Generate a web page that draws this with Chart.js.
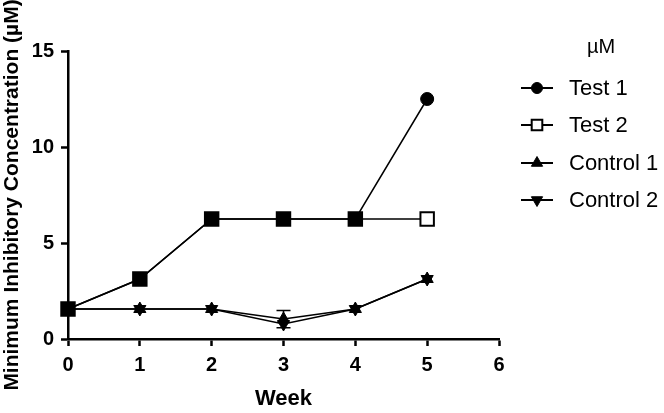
<!DOCTYPE html>
<html>
<head>
<meta charset="utf-8">
<script src="https://cdn.jsdelivr.net/npm/chart.js@4"></script>
<style>
  html, body { margin: 0; padding: 0; background: #fff; }
  #wrap { width: 664px; height: 413px; }
</style>
</head>
<body>
<div id="wrap"><canvas id="mic_chartCanvas" width="664" height="413"></canvas></div>
<script>
// data
var weeks = [0, 1, 2, 3, 4, 5];
var test1 = [1.5625, 3.125, 6.25, 6.25, 6.25, 12.5];
var test2 = [1.5625, 3.125, 6.25, 6.25, 6.25, 6.25];
var control1 = [1.5625, 1.5625, 1.5625, 1.04, 1.5625, 3.125];
var control1Err = [0, 0, 0, 0.45, 0, 0];
var control2 = [1.5625, 1.5625, 1.5625, 0.78, 1.5625, 3.125];
var xTicks = [0, 1, 2, 3, 4, 5, 6];
var yTicks = [0, 5, 10, 15];
var legendTitle = 'µM';

var FONT = '"Liberation Sans", Arial, Helvetica, sans-serif';

/* turn two arrays into x/y points */
function toPoints(xs, ys) {
    var pts = [];
    for (var i = 0; i < xs.length; i++) {
        pts.push({ x: xs[i], y: ys[i] });
    }
    return pts;
}

/* error bars drawn through the chart scales */
var errorBars = {
    id: 'errorBars',
    afterDatasetsDraw: function (chart) {
        var ctx = chart.ctx;
        var xs = chart.scales.x, ys = chart.scales.y;
        chart.data.datasets.forEach(function (ds) {
            if (!ds.errors) return;
            ctx.save();
            ctx.strokeStyle = '#000';
            ctx.lineWidth = 1.5;
            for (var i = 0; i < ds.data.length; i++) {
                var e = ds.errors[i];
                if (!e) continue;
                var px = xs.getPixelForValue(ds.data[i].x);
                var top = ys.getPixelForValue(ds.data[i].y + e);
                var bot = ys.getPixelForValue(ds.data[i].y - e);
                ctx.beginPath();
                ctx.moveTo(px, top); ctx.lineTo(px, bot);
                ctx.moveTo(px - 7, top); ctx.lineTo(px + 7, top);
                ctx.moveTo(px - 7, bot); ctx.lineTo(px + 7, bot);
                ctx.stroke();
            }
            ctx.restore();
        });
    }
};

/* legend on the right: short line with marker, then label */
var sideLegend = {
    id: 'sideLegend',
    afterDraw: function (chart) {
        var ctx = chart.ctx;
        var x0 = 521, x1 = 553, tx = 569;
        var rowY = [88, 125, 163, 200];
        ctx.save();
        ctx.fillStyle = '#000';
        ctx.font = '20px ' + FONT;
        ctx.textAlign = 'center';
        ctx.textBaseline = 'middle';
        ctx.fillText(legendTitle, 601, 47);
        chart.data.datasets.forEach(function (ds, i) {
            var y = rowY[i];
            ctx.strokeStyle = '#000';
            ctx.lineWidth = 2;
            ctx.beginPath();
            ctx.moveTo(x0, y); ctx.lineTo(x1, y);
            ctx.stroke();
            ctx.fillStyle = ds.legendFill;
            ctx.lineWidth = ds.legendBorder;
            Chart.helpers.drawPoint(ctx, {
                pointStyle: ds.pointStyle,
                rotation: ds.pointRotation || 0,
                radius: ds.legendRadius,
                borderWidth: ds.legendBorder
            }, (x0 + x1) / 2, y);
            ctx.fillStyle = '#000';
            ctx.font = '22px ' + FONT;
            ctx.textAlign = 'left';
            ctx.fillText(ds.label, tx, y + 1);
        });
        ctx.restore();
    }
};

var ctx = document.getElementById('mic_chartCanvas').getContext('2d');
var chartData = {
    type: 'scatter',
    data: {
        datasets: [{
            label: 'Test 1',
            data: toPoints(weeks, test1),
            showLine: true,
            borderColor: '#000',
            borderWidth: 1.5,
            pointStyle: 'circle',
            pointRadius: 6.5,
            pointBorderWidth: 1,
            pointBackgroundColor: '#000',
            pointBorderColor: '#000',
            legendFill: '#000', legendRadius: 5.5, legendBorder: 1
        }, {
            label: 'Test 2',
            data: toPoints(weeks, test2),
            showLine: true,
            borderColor: '#000',
            borderWidth: 1.5,
            pointStyle: 'rect',
            pointRadius: 9.5,
            pointBorderWidth: 2,
            pointBackgroundColor: ['#000', '#000', '#000', '#000', '#000', '#fff'],
            pointBorderColor: '#000',
            legendFill: '#fff', legendRadius: 7.5, legendBorder: 2
        }, {
            label: 'Control 1',
            data: toPoints(weeks, control1),
            errors: control1Err,
            showLine: true,
            borderColor: '#000',
            borderWidth: 1.5,
            pointStyle: 'triangle',
            pointRadius: 7,
            pointBorderWidth: 1,
            pointBackgroundColor: '#000',
            pointBorderColor: '#000',
            legendFill: '#000', legendRadius: 6.5, legendBorder: 1
        }, {
            label: 'Control 2',
            data: toPoints(weeks, control2),
            showLine: true,
            borderColor: '#000',
            borderWidth: 1.5,
            pointStyle: 'triangle',
            pointRotation: 180,
            pointRadius: 7,
            pointBorderWidth: 1,
            pointBackgroundColor: '#000',
            pointBorderColor: '#000',
            legendFill: '#000', legendRadius: 6.5, legendBorder: 1
        }]
    },
    options: {
        responsive: false,
        animation: false,
        clip: false,
        layout: { padding: { left: 0, top: 51, right: 165, bottom: 0 } },
        plugins: {
            legend: { display: false },
            tooltip: { enabled: false }
        },
        scales: {
            x: {
                type: 'linear',
                min: 0, max: 6,
                afterBuildTicks: function (scale) {
                    scale.ticks = xTicks.map(function (v) { return { value: v }; });
                },
                afterFit: function (scale) { scale.height = 74; },
                grid: { drawOnChartArea: false, drawTicks: true, tickLength: 7, tickWidth: 2.5, tickColor: '#000' },
                border: { display: true, color: '#000', width: 2.5 },
                ticks: { color: '#000', padding: 7, font: { family: FONT, size: 20, weight: 'bold' } },
                title: { display: true, text: 'Week', color: '#000', padding: { top: 0, bottom: 1 },
                    font: { family: FONT, size: 22, weight: 'bold' } }
            },
            y: {
                min: 0, max: 15,
                afterBuildTicks: function (scale) {
                    scale.ticks = yTicks.map(function (v) { return { value: v }; });
                },
                afterFit: function (scale) { scale.width = 68; },
                grid: { drawOnChartArea: false, drawTicks: true, tickLength: 7, tickWidth: 2.5, tickColor: '#000' },
                border: { display: true, color: '#000', width: 2.5 },
                ticks: { color: '#000', padding: 7, font: { family: FONT, size: 20, weight: 'bold' } },
                title: { display: true, text: 'Minimum Inhibitory Concentration (µM)', color: '#000',
                    padding: { top: 0, bottom: 0 }, font: { family: FONT, size: 21, weight: 'bold' } }
            }
        }
    },
    plugins: [errorBars, sideLegend]
};
var chart = new Chart(ctx, chartData);
</script>
</body>
</html>
